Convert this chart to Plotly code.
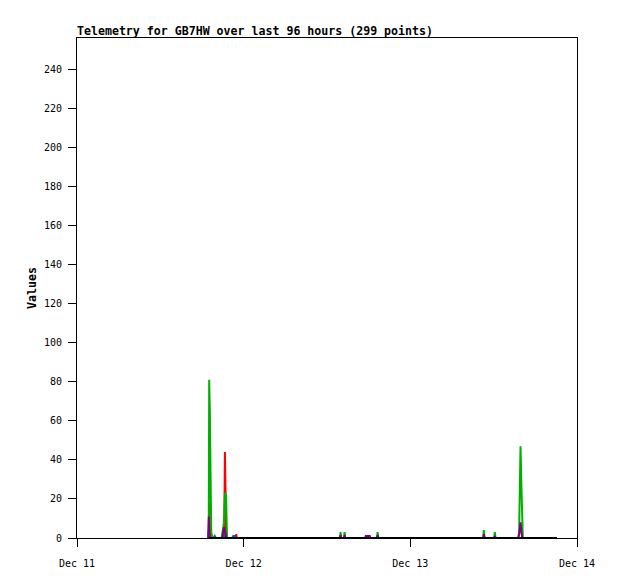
import plotly.graph_objects as go

TITLE = "Telemetry for GB7HW over last 96 hours (299 points)"

# sparse samples per channel (time, value); the channel sits at zero between them
green_t = ["2023-12-11 18:58", "2023-12-11 19:02", "2023-12-11 19:08", "2023-12-11 19:14",
           "2023-12-11 19:20", "2023-12-11 19:30", "2023-12-11 20:50", "2023-12-11 21:00",
           "2023-12-11 21:10", "2023-12-11 21:18", "2023-12-11 21:28", "2023-12-11 21:36",
           "2023-12-12 13:52", "2023-12-12 13:57", "2023-12-12 14:03", "2023-12-12 14:27",
           "2023-12-12 14:32", "2023-12-12 14:38", "2023-12-12 19:12", "2023-12-12 19:17",
           "2023-12-12 19:23", "2023-12-13 10:30", "2023-12-13 10:35", "2023-12-13 10:41",
           "2023-12-13 12:05", "2023-12-13 12:10", "2023-12-13 12:16", "2023-12-13 15:32",
           "2023-12-13 15:40", "2023-12-13 15:46", "2023-12-13 15:52", "2023-12-13 16:00",
           "2023-12-13 16:06", "2023-12-13 16:12"]
green_v = [0, 81, 64, 20, 3, 0, 0, 4, 8, 23, 22, 0,
           0, 3, 0, 0, 3, 0, 0, 3, 0, 0, 4, 0,
           0, 3, 0, 0, 3, 25, 47, 26, 3, 0]

red_t = ["2023-12-11 18:56", "2023-12-11 19:00", "2023-12-11 19:04", "2023-12-11 19:10",
         "2023-12-11 21:12", "2023-12-11 21:18", "2023-12-11 21:23", "2023-12-11 21:30",
         "2023-12-11 22:51", "2023-12-11 22:56", "2023-12-11 23:01"]
red_v = [0, 13, 18, 0, 0, 44, 23, 0, 0, 2, 0]

blue_t = ["2023-12-11 18:54", "2023-12-11 18:58", "2023-12-11 19:03", "2023-12-11 19:40",
          "2023-12-11 19:50", "2023-12-11 20:00", "2023-12-11 21:00", "2023-12-11 21:06",
          "2023-12-11 21:12", "2023-12-11 22:20", "2023-12-11 22:30", "2023-12-11 22:45",
          "2023-12-11 22:55"]
blue_v = [0, 4, 0, 0, 1, 0, 0, 2, 0, 0, 1, 1, 0]

purple_t = ["2023-12-11 18:55", "2023-12-11 18:59", "2023-12-11 19:03", "2023-12-11 19:08",
            "2023-12-11 20:55", "2023-12-11 21:00", "2023-12-11 21:08", "2023-12-11 21:15",
            "2023-12-11 21:22", "2023-12-11 21:30", "2023-12-12 13:52", "2023-12-12 13:57",
            "2023-12-12 14:03", "2023-12-12 14:27", "2023-12-12 14:32", "2023-12-12 14:38",
            "2023-12-12 17:30", "2023-12-12 17:35", "2023-12-12 18:10", "2023-12-12 18:15",
            "2023-12-12 19:12", "2023-12-12 19:17", "2023-12-12 19:23", "2023-12-13 10:30",
            "2023-12-13 10:35", "2023-12-13 10:41", "2023-12-13 12:05", "2023-12-13 12:10",
            "2023-12-13 12:16", "2023-12-13 15:33", "2023-12-13 15:40", "2023-12-13 15:46",
            "2023-12-13 15:52", "2023-12-13 15:58", "2023-12-13 16:06"]
purple_v = [0, 11, 3, 0, 0, 3, 5, 5, 2, 0, 0, 1.5,
            0, 0, 1.5, 0, 0, 1, 1, 0, 0, 1.5, 0, 0,
            2, 0, 0, 1, 0, 0, 2, 5, 8, 4, 0]

black_t = ["2023-12-11 19:00", "2023-12-13 21:07"]
black_v = [0, 0]

series = [
    ("red", red_t, red_v, "#ff0000"),
    ("green", green_t, green_v, "#00b000"),
    ("blue", blue_t, blue_v, "#0060d0"),
    ("purple", purple_t, purple_v, "#800080"),
    ("black", black_t, black_v, "#000000"),
]

fig = go.Figure()
for name, t, v, col in series:
    fig.add_trace(go.Scatter(x=t, y=v, mode="lines", name=name,
                             line=dict(color=col, width=2)))

mono = "DejaVu Sans Mono"
fig.update_layout(
    width=618, height=579,
    margin=dict(l=77, r=41, t=38, b=41),
    paper_bgcolor="white", plot_bgcolor="white",
    showlegend=False,
    title=dict(text="<b>" + TITLE + "</b>", x=77 / 618, xanchor="left",
               y=1 - 35 / 579, yanchor="bottom",
               font=dict(family=mono, size=11.6, color="black")),
)
fig.update_xaxes(
    range=["2023-12-11", "2023-12-14"], dtick=86400000, tickformat="%b %d",
    showgrid=False, zeroline=False, showline=True, linecolor="black", mirror=True,
    ticks="outside", ticklen=8, tickcolor="black", ticklabelstandoff=8,
    tickfont=dict(family=mono, size=10, color="black"), automargin=False,
)
fig.update_yaxes(
    range=[0, 256], dtick=20, showgrid=False, zeroline=False,
    showline=True, linecolor="black", mirror=True,
    ticks="outside", ticklen=8, tickcolor="black", ticklabelstandoff=4,
    tickfont=dict(family=mono, size=10, color="black"), automargin=False,
    title=dict(text="<b>Values</b>", font=dict(family=mono, size=11.6, color="black"),
               standoff=4),
)

fig.write_html("out.html", config={"displayModeBar": False},
               post_script="document.body.style.margin='0';")
